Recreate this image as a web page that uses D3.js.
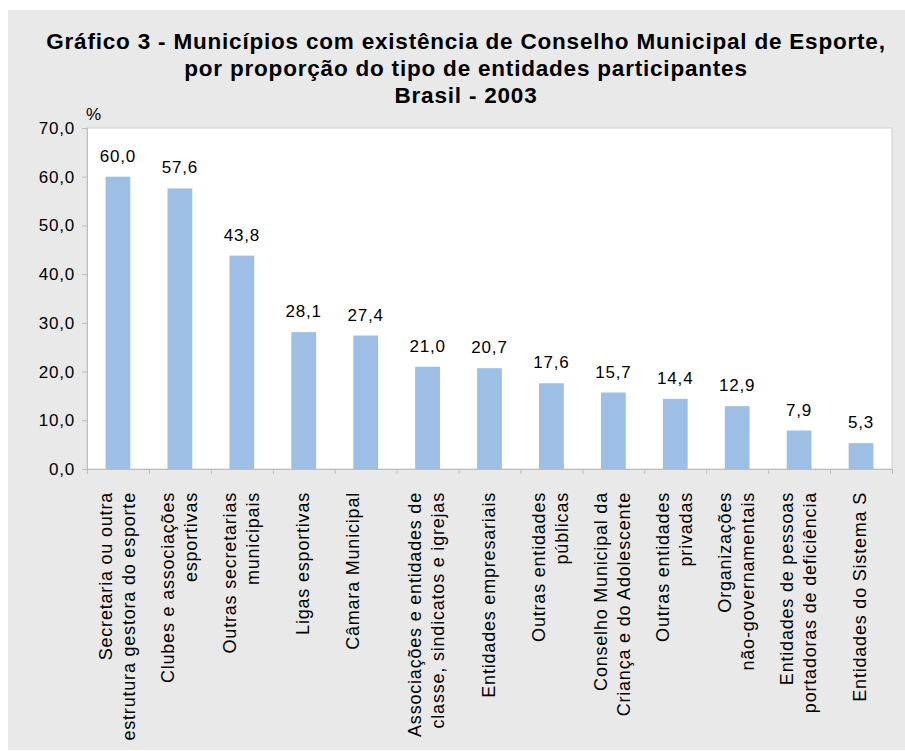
<!DOCTYPE html>
<html>
<head>
<meta charset="utf-8">
<script src="https://cdn.jsdelivr.net/npm/d3@7"></script>
<style>
  body { margin: 0; background: #fff; }
  text { font-family: "Liberation Sans", Arial, sans-serif; fill: #000; }
</style>
</head>
<body>
<div id="chart"></div>
<script>
// Category labels (line breaks as in the original)
const categories = [
  ["Secretaria ou outra", "estrutura gestora do esporte"],
  ["Clubes e associações", "esportivas"],
  ["Outras secretarias", "municipais"],
  ["Ligas esportivas"],
  ["Câmara Municipal", ""],
  ["Associações e entidades de", "classe, sindicatos e igrejas"],
  ["Entidades empresariais"],
  ["Outras entidades", "públicas"],
  ["Conselho Municipal da", "Criança e do Adolescente"],
  ["Outras entidades", "privadas"],
  ["Organizações", "não-governamentais"],
  ["Entidades de pessoas", "portadoras de deficiência"],
  ["Entidades do Sistema S"]
];
const values = [60.0, 57.6, 43.8, 28.1, 27.4, 21.0, 20.7, 17.6, 15.7, 14.4, 12.9, 7.9, 5.3];
const yTicks = [0, 10, 20, 30, 40, 50, 60, 70];
const titleLines = [
  "Gráfico 3 - Municípios com existência de Conselho Municipal de Esporte,",
  "por proporção do tipo de entidades participantes",
  "Brasil - 2003"
];

const width = 905, height = 751;
const plot = { left: 87, top: 128, right: 892, bottom: 469 };
const fmt = v => d3.format(".1f")(v).replace(".", ",");

const svg = d3.select("#chart").append("svg")
  .attr("width", width)
  .attr("height", height);

// grey panel
svg.append("rect")
  .attr("x", 8).attr("y", 10)
  .attr("width", width - 8).attr("height", 740)
  .attr("fill", "#e9e9e9");

// title
svg.append("g").selectAll("text")
  .data(titleLines)
  .join("text")
    .attr("x", 466)
    .attr("y", (d, i) => 48.5 + i * 27)
    .attr("text-anchor", "middle")
    .style("font-size", "22.5px")
    .style("letter-spacing", "0.8px")
    .style("font-weight", "bold")
    .text(d => d);

// plot area
svg.append("rect")
  .attr("x", plot.left).attr("y", plot.top)
  .attr("width", plot.right - plot.left).attr("height", plot.bottom - plot.top)
  .attr("fill", "#fff")
  .attr("stroke", "#cfcfcf");

const x = d3.scaleBand()
  .domain(d3.range(values.length))
  .range([plot.left, plot.right])
  .paddingInner(0.6)
  .paddingOuter(0.3);

const y = d3.scaleLinear()
  .domain([0, 70])
  .range([plot.bottom, plot.top]);

// Y axis
const yAxis = svg.append("g")
  .attr("transform", "translate(" + plot.left + ",0)")
  .call(d3.axisLeft(y).tickValues(yTicks).tickFormat(fmt).tickSize(5).tickPadding(7));
yAxis.select(".domain").attr("stroke", "#bdbdbd");
yAxis.selectAll(".tick line").attr("stroke", "#bdbdbd");
yAxis.selectAll(".tick text")
  .style("font-size", "17px")
  .style("letter-spacing", "0.8px")
  .style("font-family", "'Liberation Sans', Arial, sans-serif")
  .attr("fill", "#000");

svg.append("text")
  .attr("x", 86).attr("y", 120)
  .style("font-size", "17px")
  .text("%");

// X axis boundary ticks
const xb = d3.scaleLinear().domain([0, values.length]).range([plot.left, plot.right]);
const xAxis = svg.append("g")
  .attr("transform", "translate(0," + plot.bottom + ")")
  .call(d3.axisBottom(xb).tickValues(d3.range(values.length + 1)).tickFormat("").tickSize(5));
xAxis.select(".domain").attr("stroke", "#bdbdbd");
xAxis.selectAll(".tick line").attr("stroke", "#bdbdbd");

// bars
svg.append("g").selectAll("rect")
  .data(values)
  .join("rect")
    .attr("x", (d, i) => x(i))
    .attr("y", d => y(d))
    .attr("width", x.bandwidth())
    .attr("height", d => y(0) - y(d))
    .attr("fill", "#9dbfe5");

// value labels
svg.append("g").selectAll("text")
  .data(values)
  .join("text")
    .attr("x", (d, i) => x(i) + x.bandwidth() / 2)
    .attr("y", d => y(d) - 15)
    .attr("text-anchor", "middle")
    .style("font-size", "17px")
    .style("letter-spacing", "0.8px")
    .text(fmt);

// category labels, rotated
const lineH = 23;
const cat = svg.append("g").selectAll("g")
  .data(categories)
  .join("g")
    .attr("transform", (d, i) =>
      "translate(" + (x(i) + x.bandwidth() / 2) + ",492) rotate(-90)");

cat.each(function (lines) {
  const t = d3.select(this).append("text")
    .attr("text-anchor", "end")
    .style("font-size", "18px")
    .style("letter-spacing", "0.8px");
  const off = -(lines.length - 1) * lineH / 2;
  lines.forEach((ln, j) => {
    t.append("tspan")
      .attr("x", 0)
      .attr("y", off + j * lineH - 1)
      .attr("dy", "0.35em")
      .text(ln);
  });
});
</script>
</body>
</html>
